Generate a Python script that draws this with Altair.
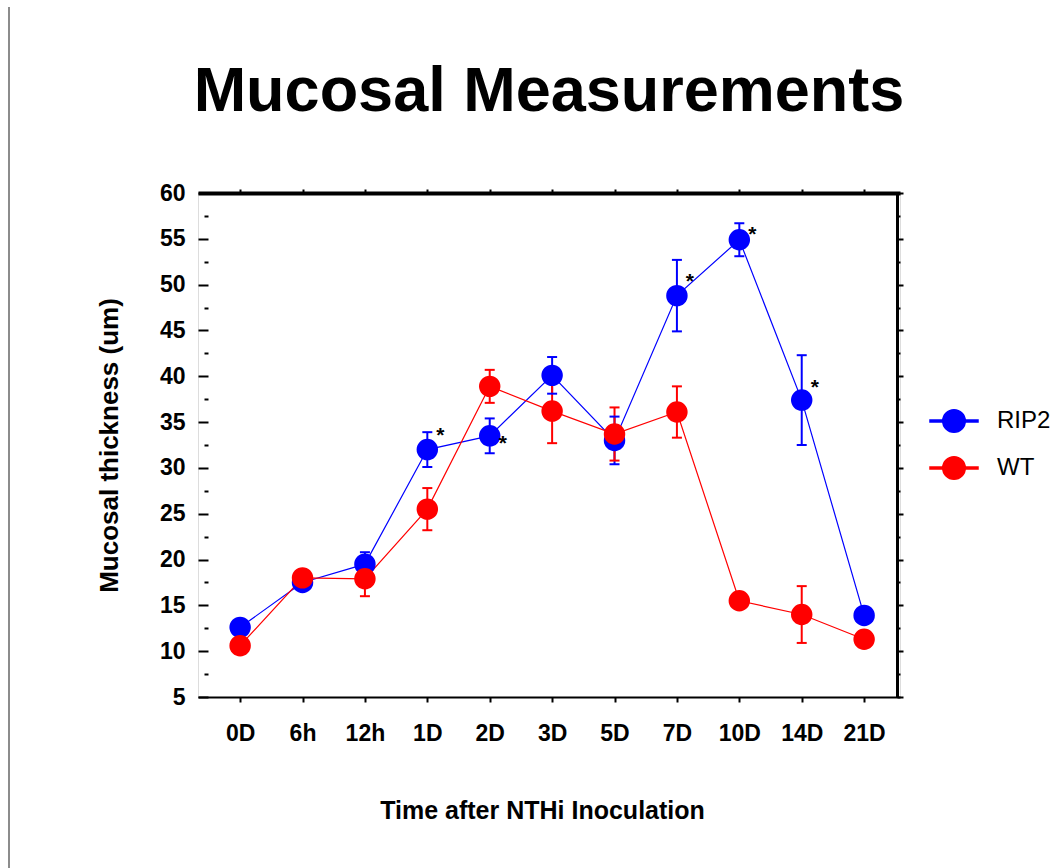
import altair as alt
import pandas as pd

# ---------------- data ----------------
categories = ["0D", "6h", "12h", "1D", "2D", "3D", "5D", "7D", "10D", "14D", "21D"]
series_names = ["RIP2", "WT"]
series_colors = ["#0000ff", "#ff0000"]

rip2_mean = [12.6, 17.5, 19.5, 32.0, 33.5, 40.1, 33.0, 48.8, 54.9, 37.4, 13.9]
rip2_err = [0.6, 0.6, 1.3, 1.9, 1.9, 2.0, 2.6, 3.9, 1.8, 4.9, 0.8]
wt_mean = [10.6, 18.0, 17.9, 25.5, 38.9, 36.2, 33.7, 36.1, 15.5, 14.0, 11.3]
wt_err = [0.6, 0.6, 1.9, 2.3, 1.8, 3.5, 2.9, 2.8, 0.8, 3.1, 0.6]

star_categories = ["1D", "2D", "7D", "10D", "14D"]
star_values = [34.0, 33.2, 50.8, 56.0, 39.3]

y_tick_values = [5, 7.5, 10, 12.5, 15, 17.5, 20, 22.5, 25, 27.5, 30, 32.5, 35,
                 37.5, 40, 42.5, 45, 47.5, 50, 52.5, 55, 57.5, 60]

# ---------------- tables ----------------
rows = []
for name, means, errs in (("RIP2", rip2_mean, rip2_err), ("WT", wt_mean, wt_err)):
    for i, (c, m, e) in enumerate(zip(categories, means, errs)):
        rows.append({"time": c, "idx": i, "series": name, "mean": m,
                     "lo": m - e, "hi": m + e})
df = pd.DataFrame(rows)
stars = pd.DataFrame({"time": star_categories, "y": star_values})
frame_df = pd.DataFrame({"k": [0]})

FONT = "Liberation Sans"

xscale = alt.Scale(type="point", domain=categories, padding=0.625, align=0.54)
yscale = alt.Scale(domain=[5, 60], nice=False, zero=False)
cscale = alt.Scale(domain=series_names, range=series_colors)

major_minor_left = {"condition": {"test": "datum.value % 5 === 0", "value": 10}, "value": 4}
major_minor_right = {"condition": {"test": "datum.value % 5 === 0", "value": 6}, "value": 3}

bottom_axis = alt.Axis(
    orient="bottom", grid=False, domainColor="black", domainWidth=2,
    tickColor="black", tickWidth=2, tickSize=5, labelAngle=0,
    labelFont=FONT, labelFontSize=23, labelFontWeight="bold", labelColor="black",
    labelBaseline="alphabetic", labelPadding=38,
    title="Time after NTHi Inoculation", titleFont=FONT, titleFontSize=25,
    titleFontWeight="bold", titleColor="black", titleBaseline="alphabetic",
    titleX=344, titleY=121,
)
left_axis = alt.Axis(
    orient="left", grid=False, domain=False, offset=-10, values=y_tick_values,
    tickColor="black", tickWidth=2, tickSize=major_minor_left,
    labelExpr="datum.value % 5 === 0 ? datum.label : ''", labelOverlap=False,
    labelFont=FONT, labelFontSize=23, labelFontWeight="bold", labelColor="black",
    labelPadding=13,
    title="Mucosal thickness (um)", titleFont=FONT, titleFontSize=26,
    titleFontWeight="bold", titleColor="black", titleBaseline="alphabetic",
    titleX=-91, titleY=252,
)
top_axis = alt.Axis(
    orient="top", grid=False, domainColor="black", domainWidth=4,
    tickColor="black", tickWidth=2, tickSize=4, labels=False, title=None,
)
right_axis = alt.Axis(
    orient="right", grid=False, offset=-3, values=y_tick_values,
    domainColor="black", domainWidth=3, tickColor="black", tickWidth=2,
    tickSize=major_minor_right, labels=False, title=None,
)

# legend symbol: a horizontal line through a filled circle
SYMBOL_PATH = ("M-1,-0.045H1V0.045H-1Z"
               "M-0.47,0A0.47,0.47,0,1,1,0.47,0A0.47,0.47,0,1,1,-0.47,0Z")

legend = alt.Legend(
    title=None, orient="none", legendX=731, legendY=203, padding=0,
    symbolType=SYMBOL_PATH, symbolSize=2304, symbolStrokeWidth=1.5,
    labelFont=FONT, labelFontSize=24, labelColor="black", labelOffset=18,
    rowPadding=7,
)

gray = alt.Chart(frame_df).mark_rule(color="#8c8c8c", strokeWidth=2).encode(
    x=alt.value(-189), y=alt.value(-186), y2=alt.value(675)
)

lines = alt.Chart(df).mark_line(strokeWidth=1.2).encode(
    x=alt.X("time:N", scale=xscale, axis=bottom_axis),
    y=alt.Y("mean:Q", scale=yscale, axis=left_axis),
    color=alt.Color("series:N", scale=cscale, legend=legend),
    order=alt.Order("idx:Q"),
)

rules = alt.Chart(df).mark_rule(strokeWidth=2).encode(
    x=alt.X("time:N", scale=xscale, axis=top_axis),
    y=alt.Y("lo:Q", scale=yscale, axis=right_axis),
    y2="hi:Q",
    color=alt.Color("series:N", scale=cscale, legend=None),
)

caps = alt.Chart(df).transform_fold(["lo", "hi"], as_=["end", "val"]).mark_tick(
    size=10, thickness=2, opacity=1
).encode(
    x=alt.X("time:N", scale=xscale, axis=None),
    y=alt.Y("val:Q", scale=yscale, axis=None),
    color=alt.Color("series:N", scale=cscale, legend=None),
)

points = alt.Chart(df).mark_point(
    shape="circle", size=460, opacity=1, filled=True, strokeWidth=0
).encode(
    x=alt.X("time:N", scale=xscale, axis=None),
    y=alt.Y("mean:Q", scale=yscale, axis=None),
    fill=alt.Fill("series:N", scale=cscale, legend=None),
)

star_marks = alt.Chart(stars).mark_text(
    text="*", font=FONT, fontSize=21, fontWeight="bold", color="black",
    baseline="alphabetic", dx=13, dy=11,
).encode(
    x=alt.X("time:N", scale=xscale, axis=None),
    y=alt.Y("y:Q", scale=yscale, axis=None),
)

chart = alt.layer(gray, lines, rules, caps, points, star_marks).resolve_axis(
    x="independent", y="independent"
).properties(
    width=702, height=504,
    autosize=alt.AutoSizeParams(type="none"),
    padding={"left": 198, "top": 193, "right": 154, "bottom": 171},
    title=alt.TitleParams(
        "Mucosal Measurements", font=FONT, fontSize=63, fontWeight="bold",
        color="black", anchor="middle", frame="group", baseline="alphabetic",
        offset=-168,
    ),
).configure_view(stroke=None).configure(background="white")

chart.save("out.html", embed_options={"renderer": "svg", "actions": False})
